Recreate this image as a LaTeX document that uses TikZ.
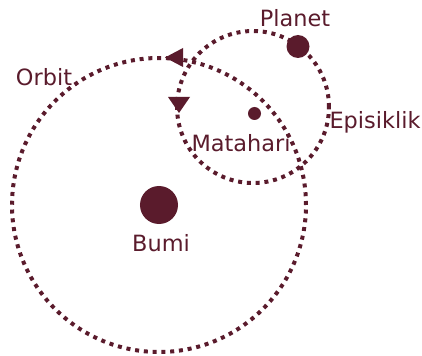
\documentclass[tikz,border=0pt]{standalone}
\usepackage{fontspec}
\setmainfont{DejaVu Sans}
\definecolor{marun}{HTML}{5A1B2C}
\usetikzlibrary{positioning}

\begin{document}
\begin{tikzpicture}[
    x=1bp, y=1bp,
    body/.style={circle, fill=marun, inner sep=0pt},
    lbl/.style={text=marun, font=\fontsize{22.5}{26}\selectfont, inner sep=0pt},
    path/.style={draw=marun, line width=4bp, dash pattern=on 4bp off 4.8bp},
    tip/.style={fill=marun}
  ]
  \useasboundingbox (0,0) rectangle (422,356);

  % bodies
  \node[body, minimum size=38bp] (bumi) at (159,151) {};
  \coordinate (epi) at (253,249);
  \node[body, minimum size=13bp] (matahari) at (254.5,242.5) {};
  \node[body, minimum size=23bp] (planet) at (298,309.5) {};

  % orbit and epicycle
  \draw[path] (bumi.center) circle (147);
  \draw[path] (epi) circle (76);

  % direction marks
  \fill[tip] (165,298.5) -- (183,308) -- (183,289) -- cycle;
  \fill[tip] (179,243) -- (168,259) -- (190,259) -- cycle;

  % labels
  \node[lbl] (lplanet) at (295,338) {Planet};
  \node[lbl] (lorbit) at (44,279) {Orbit};
  \node[lbl] (lepi) at (375,234) {Episiklik};
  \node[lbl] (lmatahari) at (241,213) {Matahari};
  \node[lbl] (lbumi) at (161,113) {Bumi};
\end{tikzpicture}
\end{document}
